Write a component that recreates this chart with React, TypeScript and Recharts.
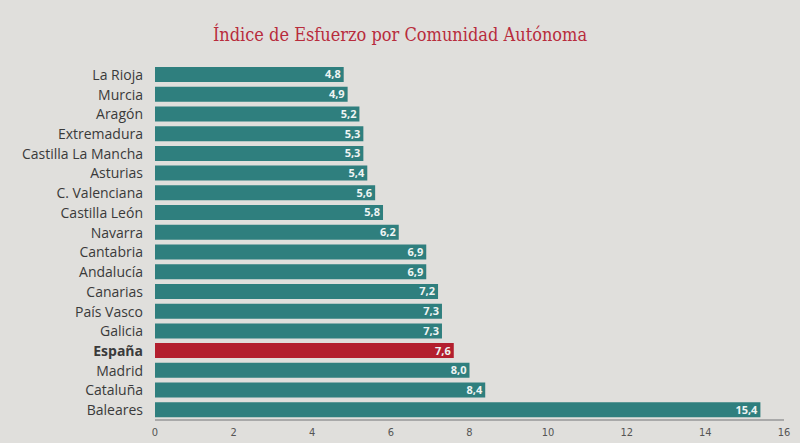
import React from "react";
import { BarChart, Bar, XAxis, YAxis, Cell, LabelList } from "recharts";

const regions = [
  "La Rioja", "Murcia", "Aragón", "Extremadura", "Castilla La Mancha", "Asturias",
  "C. Valenciana", "Castilla León", "Navarra", "Cantabria", "Andalucía", "Canarias",
  "País Vasco", "Galicia", "España", "Madrid", "Cataluña", "Baleares",
];
const effort = [4.8, 4.9, 5.2, 5.3, 5.3, 5.4, 5.6, 5.8, 6.2, 6.9, 6.9, 7.2, 7.3, 7.3, 7.6, 8.0, 8.4, 15.4];
const xTicks = [0, 2, 4, 6, 8, 10, 12, 14, 16];

const TEAL = "#2f7f7e";
const RED = "#b31f2e";
const BG = "#e0dfdc";

const rows = regions.map((name, i) => ({ name, value: effort[i] }));

const RegionTick = ({ x, y, payload }: any) => (
  <text
    x={x - 4}
    y={y}
    dy={5}
    textAnchor="end"
    fontFamily="'Open Sans', sans-serif"
    fontSize={14}
    fontWeight={payload.value === "España" ? 700 : 400}
    fill="#3a3a3a"
  >
    {payload.value}
  </text>
);

export default function App() {
  return (
    <div style={{ position: "absolute", left: 0, top: 0, width: 800, height: 443, background: BG }}>
      <div
        style={{
          position: "absolute",
          top: 24,
          width: 800,
          textAlign: "center",
          fontFamily: "'DejaVu Serif Condensed', 'DejaVu Serif', serif",
          fontSize: 18,
          color: "#b82c3c",
        }}
      >
        Índice de Esfuerzo por Comunidad Autónoma
      </div>
      <BarChart
        width={800}
        height={443}
        data={rows}
        layout="vertical"
        margin={{ top: 65, right: 16, bottom: 0, left: 0 }}
        style={{ position: "absolute", left: 0, top: 0 }}
      >
        <XAxis
          type="number"
          domain={[0, 16]}
          ticks={xTicks}
          axisLine={{ stroke: "#a9a9a9", strokeWidth: 2 }}
          tickLine={false}
          height={23}
          tick={{ fontSize: 11, fill: "#555", fontFamily: "'Liberation Sans Narrow', 'DejaVu Sans Condensed', sans-serif" }}
        />
        <YAxis
          type="category"
          dataKey="name"
          width={155}
          axisLine={false}
          tickLine={false}
          interval={0}
          tick={<RegionTick />}
        />
        <Bar dataKey="value" barSize={15} isAnimationActive={false}>
          {rows.map((r, i) => (
            <Cell key={i} fill={r.name === "España" ? RED : TEAL} />
          ))}
          <LabelList
            dataKey="value"
            position="insideRight"
            offset={3}
            formatter={(v: any) => Number(v).toFixed(1).replace(".", ",")}
            style={{ fontSize: 11, fontWeight: 700, fill: "#eef4f3", fontFamily: "'Open Sans', sans-serif" }}
          />
        </Bar>
      </BarChart>
    </div>
  );
}
